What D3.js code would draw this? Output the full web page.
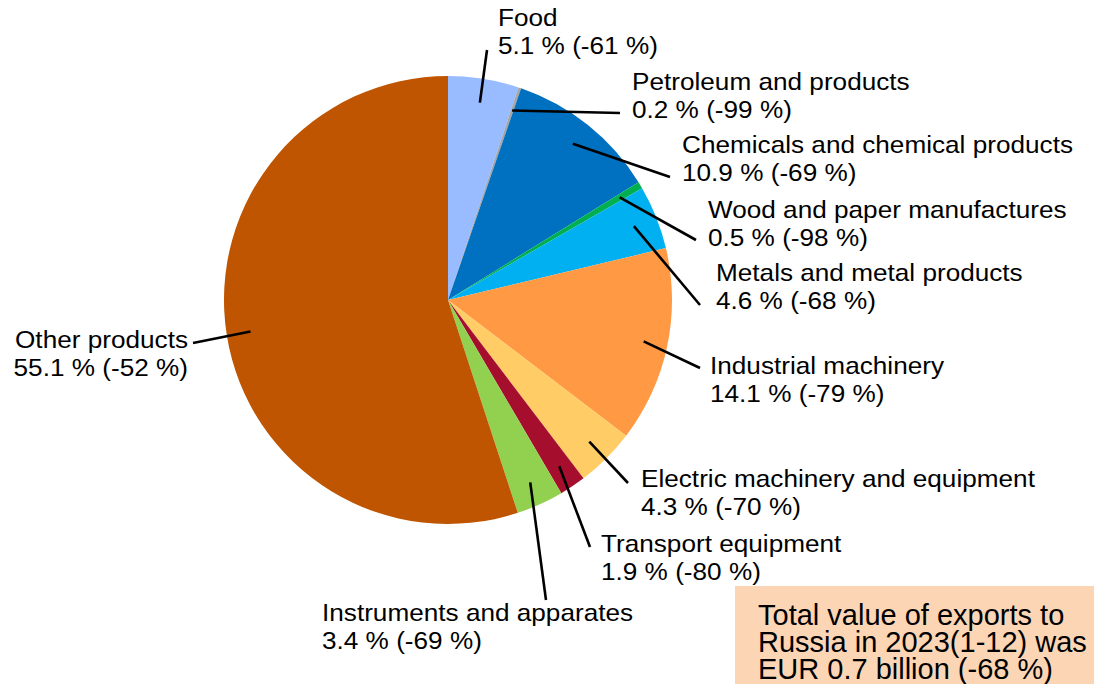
<!DOCTYPE html>
<html>
<head>
<meta charset="utf-8">
<script src="https://cdn.jsdelivr.net/npm/d3@7"></script>
<style>
body { margin:0; background:#fff; }
text { font-family: "Liberation Sans", Arial, sans-serif; fill:#000; }
</style>
</head>
<body>
<script>
// data
var categories = ["Food", "Petroleum and products", "Chemicals and chemical products",
	"Wood and paper manufactures", "Metals and metal products", "Industrial machinery",
	"Electric machinery and equipment", "Transport equipment", "Instruments and apparates",
	"Other products"];
var shares  = [5.1, 0.2, 10.9, 0.5, 4.6, 14.1, 4.3, 1.9, 3.4, 55.1];
var changes = [-61, -99, -69, -98, -68, -79, -70, -80, -69, -52];
var colors  = ["#99bbff", "#a6a6a6", "#0070c0", "#00b050", "#00b0f0", "#ff9944",
	"#ffcc66", "#a50f2d", "#92d050", "#bf5500"];
var noteLines = ["Total value of exports to", "Russia in 2023(1-12) was", "EUR 0.7 billion (-68 %)"];

// label layout: [line end x, line end y, text x, first baseline, anchor]
var labelAt = [
	[487, 50, 498, 26, "start"],
	[620, 113, 632, 90, "start"],
	[670, 177, 682, 153, "start"],
	[696, 240, 708, 218, "start"],
	[700, 305, 716, 281, "start"],
	[700, 368, 710, 374, "start"],
	[628, 483, 641, 487, "start"],
	[590, 547, 601, 552, "start"],
	[546, 600, 322, 621, "start"],
	[193, 343, 188, 348, "end"]
];

var W = 1094, H = 684, cx = 448, cy = 300, R = 224;
var svg = d3.select("body").append("svg").attr("width", W).attr("height", H);

var pie = d3.pie().sort(null).value(function(d) { return d; });
var arcs = pie(shares);
var arc = d3.arc().innerRadius(0).outerRadius(R);
var inner = d3.arc().innerRadius(200).outerRadius(200);

var g = svg.append("g").attr("transform", "translate(" + cx + "," + cy + ")");
g.selectAll("path").data(arcs).enter().append("path")
	.attr("d", arc)
	.attr("fill", function(d, i) { return colors[i]; });

// leader lines
svg.selectAll("line.lead").data(arcs).enter().append("line")
	.attr("class", "lead")
	.attr("x1", function(d) { return cx + inner.centroid(d)[0]; })
	.attr("y1", function(d) { return cy + inner.centroid(d)[1]; })
	.attr("x2", function(d, i) { return labelAt[i][0]; })
	.attr("y2", function(d, i) { return labelAt[i][1]; })
	.attr("stroke", "#000").attr("stroke-width", 2.6);

// labels (slightly wide glyphs as in the source)
var lab = svg.selectAll("text.lab").data(categories).enter().append("text")
	.attr("class", "lab")
	.attr("transform", function(d, i) { return "translate(" + labelAt[i][2] + "," + labelAt[i][3] + ") scale(1.09,1)"; })
	.attr("text-anchor", function(d, i) { return labelAt[i][4]; })
	.attr("font-size", 24);
lab.append("tspan")
	.attr("x", 0).attr("y", 0)
	.text(function(d) { return d; });
lab.append("tspan")
	.attr("x", 0).attr("y", 28.5)
	.text(function(d, i) { return shares[i].toFixed(1) + " % (" + changes[i] + " %)"; });

// note box
svg.append("rect").attr("x", 735).attr("y", 586).attr("width", 359).attr("height", 98)
	.attr("fill", "#fcd5b5");
svg.selectAll("text.note").data(noteLines).enter().append("text")
	.attr("class", "note")
	.attr("x", 758)
	.attr("y", function(d, i) { return 625 + i * 27; })
	.attr("font-size", 29)
	.text(function(d) { return d; });
</script>
</body>
</html>
